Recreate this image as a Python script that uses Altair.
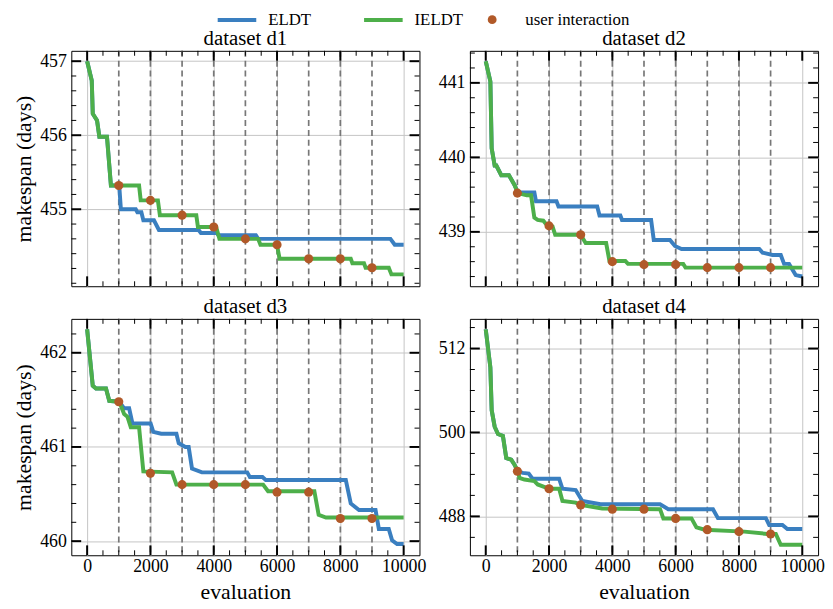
import altair as alt
import pandas as pd

FONT = "Liberation Serif, Times New Roman, Times, serif"
BLUE = "#3a7fc0"
GREEN = "#4daf4a"
BROWN = "#b15928"

SERIES = ["ELDT", "IELDT"]
UI_LABEL = ["user interaction"]
EVAL_UI = [1000, 2000, 3000, 4000, 5000, 6000, 7000, 8000, 9000]
X_MAJOR = [0, 2000, 4000, 6000, 8000, 10000]
X_MINOR = [500, 1000, 1500, 2500, 3000, 3500, 4500, 5000, 5500, 6500, 7000, 7500, 8500, 9000, 9500]

# ---------------- dataset d1 ----------------
d1_ieldt_x = [0, 146, 178, 313, 387, 627, 752, 1641, 1693, 2236, 2299, 3449, 3501, 4076, 4180,
              5403, 5476, 5998, 6082, 8329, 8381, 8747, 8799, 9530, 9614, 10000]
d1_ieldt_y = [457.0, 456.74, 456.29, 456.2, 455.98, 455.98, 455.32, 455.32, 455.12, 455.12, 454.92,
              454.92, 454.76, 454.76, 454.60, 454.60, 454.52, 454.52, 454.33, 454.33, 454.27, 454.27,
              454.21, 454.21, 454.12, 454.12]
d1_eldt_x = [0, 146, 178, 313, 387, 627, 752, 1014, 1066, 1536, 1588, 1714, 1777, 2111, 2268,
             3522, 3595, 4096, 4149, 5330, 5403, 9583, 9719, 10000]
d1_eldt_y = [457.0, 456.74, 456.29, 456.2, 455.98, 455.98, 455.32, 455.32, 455.0, 455.0, 454.96,
             454.96, 454.85, 454.85, 454.72, 454.72, 454.68, 454.68, 454.65, 454.65, 454.60, 454.60,
             454.52, 454.52]
d1_ui_y = [455.32, 455.12, 454.92, 454.76, 454.60, 454.52, 454.33, 454.33, 454.21]
d1_domain = [453.96, 457.14]
d1_major = [455, 456, 457]
d1_minor = [454.0, 454.2, 454.4, 454.6, 454.8, 455.2, 455.4, 455.6, 455.8, 456.2, 456.4, 456.6, 456.8]

# ---------------- dataset d2 ----------------
d2_ieldt_x = [0, 146, 188, 282, 334, 491, 732, 909, 1014, 1296, 1432, 1536, 1641, 1818, 1954,
              2111, 2195, 2999, 3156, 3804, 3908, 4410, 4494, 6239, 6312, 10000]
d2_ieldt_y = [441.29, 441.02, 440.12, 439.89, 439.89, 439.76, 439.76, 439.63, 439.52, 439.49, 439.49,
              439.19, 439.16, 439.15, 439.08, 439.07, 438.96, 438.96, 438.85, 438.85, 438.61, 438.61,
              438.57, 438.57, 438.52, 438.52]
d2_eldt_x = [0, 146, 188, 282, 334, 491, 732, 909, 1014, 1536, 1588, 2236, 2299, 3522, 3595, 4253,
             4305, 5225, 5309, 5821, 5977, 6186, 8642, 8747, 9060, 9321, 9426, 9583, 9792, 10000]
d2_eldt_y = [441.29, 441.02, 440.12, 439.89, 439.89, 439.76, 439.76, 439.63, 439.53, 439.53, 439.41,
             439.41, 439.34, 439.34, 439.22, 439.22, 439.16, 439.16, 438.89, 438.89, 438.81, 438.77,
             438.77, 438.72, 438.69, 438.69, 438.57, 438.57, 438.42, 438.40]
d2_ui_y = [439.52, 439.08, 438.96, 438.60, 438.56, 438.56, 438.52, 438.52, 438.52]
d2_domain = [438.27, 441.43]
d2_major = [439, 440, 441]
d2_minor = [438.4, 438.6, 438.8, 439.2, 439.4, 439.6, 439.8, 440.2, 440.4, 440.6, 440.8, 441.2, 441.4]

# ---------------- dataset d3 ----------------
d3_ieldt_x = [0, 178, 282, 596, 700, 1014, 1170, 1275, 1380, 1641, 1776, 2686, 2821, 5560, 5716,
              7179, 7315, 7545, 10000]
d3_ieldt_y = [462.25, 461.65, 461.62, 461.62, 461.49, 461.48, 461.35, 461.32, 461.21, 461.21, 460.74,
              460.73, 460.60, 460.60, 460.53, 460.53, 460.28, 460.25, 460.25]
d3_eldt_x = [0, 178, 282, 596, 700, 1014, 1170, 1327, 1432, 2006, 2090, 2341, 2821, 2894, 3104,
             3208, 3313, 3626, 5058, 5142, 5539, 5644, 8172, 8329, 8590, 9112, 9217, 9530, 9635,
             9792, 10000]
d3_eldt_y = [462.25, 461.65, 461.62, 461.62, 461.49, 461.48, 461.41, 461.41, 461.25, 461.25, 461.16,
             461.14, 461.14, 461.04, 461.00, 461.00, 460.77, 460.73, 460.73, 460.68, 460.68, 460.65,
             460.65, 460.40, 460.33, 460.33, 460.13, 460.13, 460.01, 459.97, 459.97]
d3_ui_y = [461.48, 460.72, 460.60, 460.60, 460.60, 460.52, 460.52, 460.24, 460.24]
d3_domain = [459.85, 462.36]
d3_major = [460, 461, 462]
d3_minor = [460.2, 460.4, 460.6, 460.8, 461.2, 461.4, 461.6, 461.8, 462.2]

# ---------------- dataset d4 ----------------
d4_ieldt_x = [0, 146, 188, 282, 387, 543, 648, 805, 909, 1014, 1066, 1223, 1536, 1641, 2006, 2320,
              2424, 2842, 2999, 3678, 5507, 5612, 6500, 6657, 6918, 8172, 8903, 9165, 9321, 10000]
d4_ieldt_y = [514.74, 509.31, 503.18, 500.82, 499.78, 499.50, 496.34, 496.10, 495.40, 494.45, 493.51,
              493.27, 493.04, 492.57, 491.95, 491.95, 490.21, 489.97, 489.64, 489.12, 489.03, 487.71,
              487.71, 486.43, 486.10, 485.82, 485.49, 485.49, 483.93, 483.93]
d4_eldt_x = [0, 146, 188, 282, 387, 543, 648, 805, 909, 1014, 1170, 1359, 1484, 2320, 2424, 2842,
             3051, 3626, 5507, 5768, 7179, 7336, 8851, 8956, 9374, 9530, 10000]
d4_eldt_y = [514.74, 509.31, 503.18, 500.82, 499.78, 499.50, 496.34, 496.10, 495.40, 494.45, 494.22,
             494.12, 493.37, 493.37, 491.95, 491.76, 490.21, 489.74, 489.74, 489.03, 489.03, 487.75,
             487.75, 486.76, 486.76, 486.20, 486.20]
d4_ui_y = [494.45, 491.95, 489.64, 489.03, 489.03, 487.71, 486.10, 485.82, 485.49]
d4_domain = [482.44, 516.24]
d4_major = [488, 500, 512]
d4_minor = [485, 491, 494, 497, 503, 506, 509, 515]

W = 352
MAJ = 10
MIN = 5
TICK_FS = 18
TITLE_FS = 21

color_scale = alt.Scale(domain=SERIES, range=[BLUE, GREEN])
line_legend = alt.Legend(
    title=None, orient="none", legendX=159, legendY=-40, direction="horizontal",
    labelFont=FONT, labelFontSize=17, labelColor="black", labelOffset=23, columnPadding=45,
    symbolType="M-3,0L3,0", symbolSize=169, symbolStrokeWidth=4, symbolOpacity=1,
)
shape_scale = alt.Scale(domain=UI_LABEL, range=["circle"])
ui_legend = alt.Legend(
    title=None, orient="none", legendX=417, legendY=-40, direction="horizontal",
    labelFont=FONT, labelFontSize=17, labelColor="black", labelOffset=25,
    symbolSize=80, symbolFillColor=BROWN, symbolStrokeColor=BROWN, symbolStrokeWidth=0,
    symbolOpacity=1,
)


def panel(title, ex, ey, ix, iy, uy, dom, ymaj, ymin, H, bottom, left):
    xs = alt.Scale(domain=[-500, 10500], nice=False, zero=False)
    ys = alt.Scale(domain=dom, nice=False, zero=False)
    xaxis = alt.Axis(values=X_MAJOR, ticks=False, domain=False, labels=bottom, format="d",
                     title="evaluation" if bottom else None, grid=True, labelPadding=2,
                     titlePadding=7, labelFlush=False, labelFont=FONT, titleFont=FONT,
                     labelFontSize=TICK_FS, titleFontSize=22, labelColor="black",
                     titleColor="black", titleFontWeight="normal", gridColor="#c4c4c4")
    yaxis = alt.Axis(values=ymaj, ticks=False, domain=False, labels=True, format="d",
                     title="makespan (days)" if left else None, grid=True, labelPadding=5,
                     titlePadding=4, labelFont=FONT, titleFont=FONT,
                     labelFontSize=TICK_FS, titleFontSize=22, labelColor="black",
                     titleColor="black", titleFontWeight="normal", gridColor="#c4c4c4")

    def X(f):
        return alt.X(f, type="quantitative", scale=xs, axis=xaxis)

    def Y(f):
        return alt.Y(f, type="quantitative", scale=ys, axis=yaxis)

    df_e = pd.DataFrame({"e": ex, "v": ey, "s": "ELDT", "i": range(len(ex))})
    df_i = pd.DataFrame({"e": ix, "v": iy, "s": "IELDT", "i": range(len(ix))})
    df_u = pd.DataFrame({"e": EVAL_UI, "v": uy, "u": UI_LABEL[0]})

    dashed = alt.Chart(pd.DataFrame({"e": EVAL_UI})).mark_rule(
        strokeDash=[6, 4], color="#777777", strokeWidth=1.7).encode(x=X("e"))
    line_e = alt.Chart(df_e).mark_line(strokeWidth=4).encode(
        x=X("e"), y=Y("v"), color=alt.Color("s:N", scale=color_scale, legend=line_legend),
        order="i:Q")
    line_i = alt.Chart(df_i).mark_line(strokeWidth=4).encode(
        x=X("e"), y=Y("v"), color=alt.Color("s:N", scale=color_scale, legend=line_legend),
        order="i:Q")
    pts = alt.Chart(df_u).mark_point(filled=True, size=85, opacity=1, color=BROWN).encode(
        x=X("e"), y=Y("v"), shape=alt.Shape("u:N", scale=shape_scale, legend=ui_legend))

    xmaj = alt.Chart(pd.DataFrame({"t": X_MAJOR}))
    xmin = alt.Chart(pd.DataFrame({"t": X_MINOR}))
    ymj = alt.Chart(pd.DataFrame({"t": ymaj}))
    ymn = alt.Chart(pd.DataFrame({"t": ymin}))
    ticks = [
        xmaj.mark_rule(color="black", strokeWidth=2).encode(x=X("t"), y=alt.value(0), y2=alt.value(MAJ)),
        xmaj.mark_rule(color="black", strokeWidth=2).encode(x=X("t"), y=alt.value(H), y2=alt.value(H - MAJ)),
        xmin.mark_rule(color="black", strokeWidth=1).encode(x=X("t"), y=alt.value(0), y2=alt.value(MIN)),
        xmin.mark_rule(color="black", strokeWidth=1).encode(x=X("t"), y=alt.value(H), y2=alt.value(H - MIN)),
        ymj.mark_rule(color="black", strokeWidth=2).encode(y=Y("t"), x=alt.value(0), x2=alt.value(MAJ)),
        ymj.mark_rule(color="black", strokeWidth=2).encode(y=Y("t"), x=alt.value(W), x2=alt.value(W - MAJ)),
        ymn.mark_rule(color="black", strokeWidth=1).encode(y=Y("t"), x=alt.value(0), x2=alt.value(MIN)),
        ymn.mark_rule(color="black", strokeWidth=1).encode(y=Y("t"), x=alt.value(W), x2=alt.value(W - MIN)),
    ]
    return alt.layer(dashed, line_e, line_i, pts, *ticks).properties(
        width=W, height=H,
        title=alt.TitleParams(text=title, anchor="middle", font=FONT, fontSize=TITLE_FS,
                              fontWeight="normal", color="black", offset=1),
    )


p1 = panel("dataset d1", d1_eldt_x, d1_eldt_y, d1_ieldt_x, d1_ieldt_y, d1_ui_y, d1_domain,
           d1_major, d1_minor, 238, False, True)
p2 = panel("dataset d2", d2_eldt_x, d2_eldt_y, d2_ieldt_x, d2_ieldt_y, d2_ui_y, d2_domain,
           d2_major, d2_minor, 238, False, False)
p3 = panel("dataset d3", d3_eldt_x, d3_eldt_y, d3_ieldt_x, d3_ieldt_y, d3_ui_y, d3_domain,
           d3_major, d3_minor, 239, True, True)
p4 = panel("dataset d4", d4_eldt_x, d4_eldt_y, d4_ieldt_x, d4_ieldt_y, d4_ui_y, d4_domain,
           d4_major, d4_minor, 239, True, False)

chart = alt.concat(p1, p2, p3, p4, columns=2, spacing={"row": 33, "column": 51}).properties(
    bounds="flush", padding={"left": 4, "top": 0, "right": 0, "bottom": 0}
).configure_view(
    stroke="black", strokeWidth=1
).configure_axis(
    labelFont=FONT, titleFont=FONT
).configure_legend(
    labelFont=FONT
).configure_title(
    font=FONT
)

chart.save("out.html", embed_options={"renderer": "svg", "actions": False})
